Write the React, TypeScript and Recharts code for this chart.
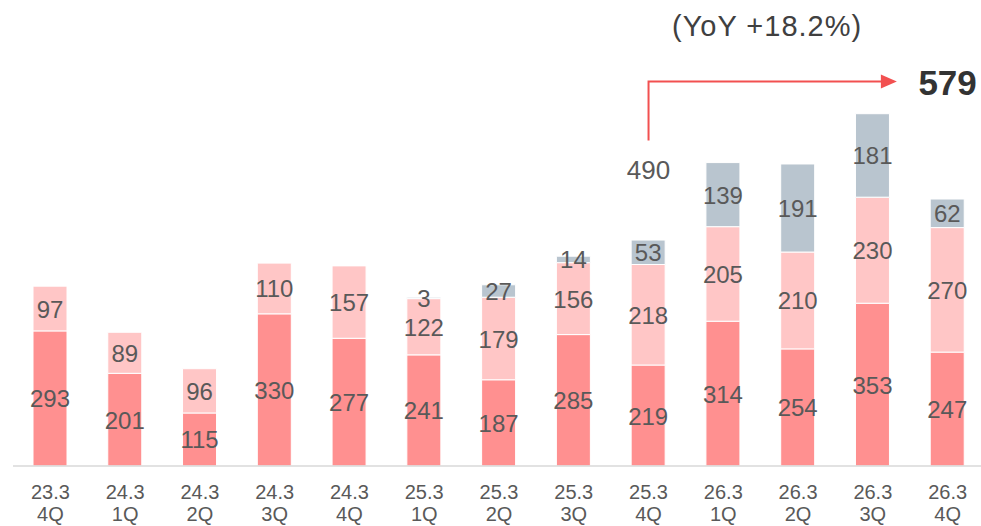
import { Bar, BarChart, LabelList, ReferenceDot, ReferenceLine, XAxis, YAxis } from "recharts"

const periods = ["23.3", "24.3", "24.3", "24.3", "24.3", "25.3", "25.3", "25.3", "25.3", "26.3", "26.3", "26.3", "26.3"]
const quarters = ["4Q", "1Q", "2Q", "3Q", "4Q", "1Q", "2Q", "3Q", "4Q", "1Q", "2Q", "3Q", "4Q"]
const baseValues = [293, 201, 115, 330, 277, 241, 187, 285, 219, 314, 254, 353, 247]
const midValues = [97, 89, 96, 110, 157, 122, 179, 156, 218, 205, 210, 230, 270]
const topValues = [null, null, null, null, null, 3, 27, 14, 53, 139, 191, 181, 62]

const prevTotal = 490
const lastTotal = 579
const yoyText = "(YoY +18.2%)"

const data = periods.map((p, i) => ({
  name: `${p}\n${quarters[i]}`,
  base: baseValues[i],
  mid: midValues[i],
  top: topValues[i],
}))

const FONT = "Arial, 'Liberation Sans', sans-serif"
const TEXT = "#595959"

function CategoryTick(props: any) {
  const { x, y, payload } = props
  const [a, b] = String(payload.value).split("\n")
  return (
    <g>
      <text x={x} y={y + 25} textAnchor="middle" fontSize={20} fill={TEXT} fontFamily={FONT}>
        {a}
      </text>
      <text x={x} y={y + 47} textAnchor="middle" fontSize={20} fill={TEXT} fontFamily={FONT}>
        {b}
      </text>
    </g>
  )
}

function SegmentLabel(props: any) {
  const { x, y, width, height, value } = props
  if (value == null) return null
  return (
    <text
      x={x + width / 2}
      y={y + height / 2}
      dy={9}
      textAnchor="middle"
      fontSize={24}
      fill={TEXT}
      fontFamily={FONT}
    >
      {value}
    </text>
  )
}

function ArrowShape(props: any) {
  const { x1, y1, x2, y2 } = props
  const tip = x2 + 24
  return (
    <g>
      <path d={`M${x1},${y1} V${y2} H${tip - 14}`} stroke="#F25050" strokeWidth={2} fill="none" />
      <path d={`M${tip - 16},${y2 - 7} L${tip},${y2} L${tip - 16},${y2 + 7} Z`} fill="#F25050" />
    </g>
  )
}

export default function App() {
  return (
    <div style={{ position: "absolute", left: 0, top: 0, width: 981, height: 526, background: "#fff" }}>
      <BarChart
        width={981}
        height={526}
        data={data}
        margin={{ top: 51, right: -4, left: 13, bottom: 0 }}
        barSize={34}
      >
        <XAxis
          dataKey="name"
          interval={0}
          height={60}
          tickLine={false}
          axisLine={{ stroke: "#D9D9D9", strokeWidth: 1.5 }}
          tick={<CategoryTick />}
        />
        <YAxis hide domain={[0, 900]} />
        <Bar dataKey="base" stackId="a" fill="#FF9090" stroke="#fff" strokeWidth={1} isAnimationActive={false}>
          <LabelList dataKey="base" content={<SegmentLabel />} />
        </Bar>
        <Bar dataKey="mid" stackId="a" fill="#FFC6C6" stroke="#fff" strokeWidth={1} isAnimationActive={false}>
          <LabelList dataKey="mid" content={<SegmentLabel />} />
        </Bar>
        <Bar dataKey="top" stackId="a" fill="#B9C5CF" stroke="#fff" strokeWidth={1} isAnimationActive={false}>
          <LabelList dataKey="top" content={<SegmentLabel />} />
        </Bar>
        <ReferenceLine
          segment={[
            { x: data[8].name, y: 706 },
            { x: data[11].name, y: 834 },
          ]}
          ifOverflow="visible"
          shape={<ArrowShape />}
        />
        <ReferenceDot
          x={data[8].name}
          y={641}
          ifOverflow="visible"
          shape={(p: any) => (
            <text x={p.cx} y={p.cy} dy={9} textAnchor="middle" fontSize={26} fill={TEXT} fontFamily={FONT}>
              {prevTotal}
            </text>
          )}
        />
        <ReferenceDot
          x={data[12].name}
          y={832}
          ifOverflow="visible"
          shape={(p: any) => (
            <text x={p.cx} y={p.cy} dy={13} textAnchor="middle" fontSize={35} fontWeight="bold" fill="#333" fontFamily={FONT}>
              {lastTotal}
            </text>
          )}
        />
        <ReferenceDot
          x={data[10].name}
          y={955}
          ifOverflow="visible"
          shape={(p: any) => (
            <text x={p.cx - 31} y={p.cy} dy={10} textAnchor="middle" fontSize={29} letterSpacing={1} fill="#404040" fontFamily={FONT}>
              {yoyText}
            </text>
          )}
        />
      </BarChart>
    </div>
  )
}
